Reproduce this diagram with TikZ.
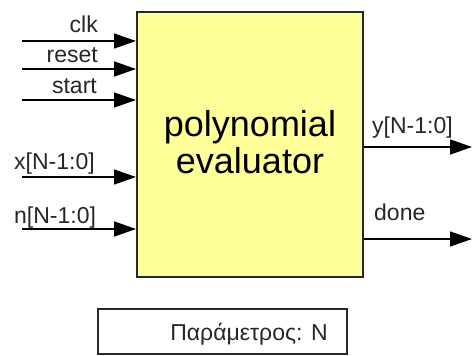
\documentclass[tikz,border=0pt]{standalone}
\usepackage{fontspec}
\setmainfont{Liberation Sans}
\usetikzlibrary{arrows.meta}
\definecolor{boxfill}{RGB}{255,255,153}
\definecolor{edge}{RGB}{40,40,40}
\tikzset{
  sig/.style={line width=1.5pt, draw=black, -{Triangle[length=22pt,width=15pt]}},
  lbl/.style={inner sep=0pt, font=\fontsize{23}{26}\selectfont, text=black!85},
  block/.style={draw=edge, line width=2pt, fill=boxfill, minimum width=226pt, minimum height=265pt, inner sep=0pt},
  parbox/.style={draw=edge, line width=1.3pt, minimum width=249pt, minimum height=45pt, inner sep=0pt}
}
\begin{document}
\begin{tikzpicture}[x=1pt,y=-1pt]
\useasboundingbox (0,0) rectangle (472,356);
\node[block] (box) at (250,144.5) {};
\node[align=center, inner sep=0pt, font=\fontsize{36}{37}\selectfont] (title) at (250,142) {polynomial\\evaluator};
% inputs
\coordinate (clkin) at (22,41);
\coordinate (rstin) at (22,69);
\coordinate (stin) at (22,100);
\coordinate (xin) at (22,177);
\coordinate (nin) at (22,229);
\draw[sig] (clkin) -- (box.west |- clkin);
\draw[sig] (rstin) -- (box.west |- rstin);
\draw[sig] (stin) -- (box.west |- stin);
\draw[sig] (xin) -- (box.west |- xin);
\draw[sig] (nin) -- (box.west |- nin);
\node[lbl, anchor=base east] (clkl) at (98,32) {clk};
\node[lbl, anchor=base east] (rstl) at (98,63) {reset};
\node[lbl, anchor=base east] (stl) at (97,93) {start};
\node[lbl, anchor=base west] (xl) at (14,169) {x[N-1:0]};
\node[lbl, anchor=base west] (nl) at (14,223) {n[N-1:0]};
% outputs
\coordinate (yout) at (472,147);
\coordinate (dout) at (472,239);
\draw[sig] (box.east |- yout) -- (yout);
\draw[sig] (box.east |- dout) -- (dout);
\node[lbl, anchor=base west] (yl) at (372,133) {y[N-1:0]};
\node[lbl, anchor=base west] (dl) at (374,220) {done};
% parameter
\node[parbox] (param) at (222.5,331.5) {};
\node[lbl, anchor=base] (paramt) at (249,340) {Παράμετρος: N};
\end{tikzpicture}
\end{document}
